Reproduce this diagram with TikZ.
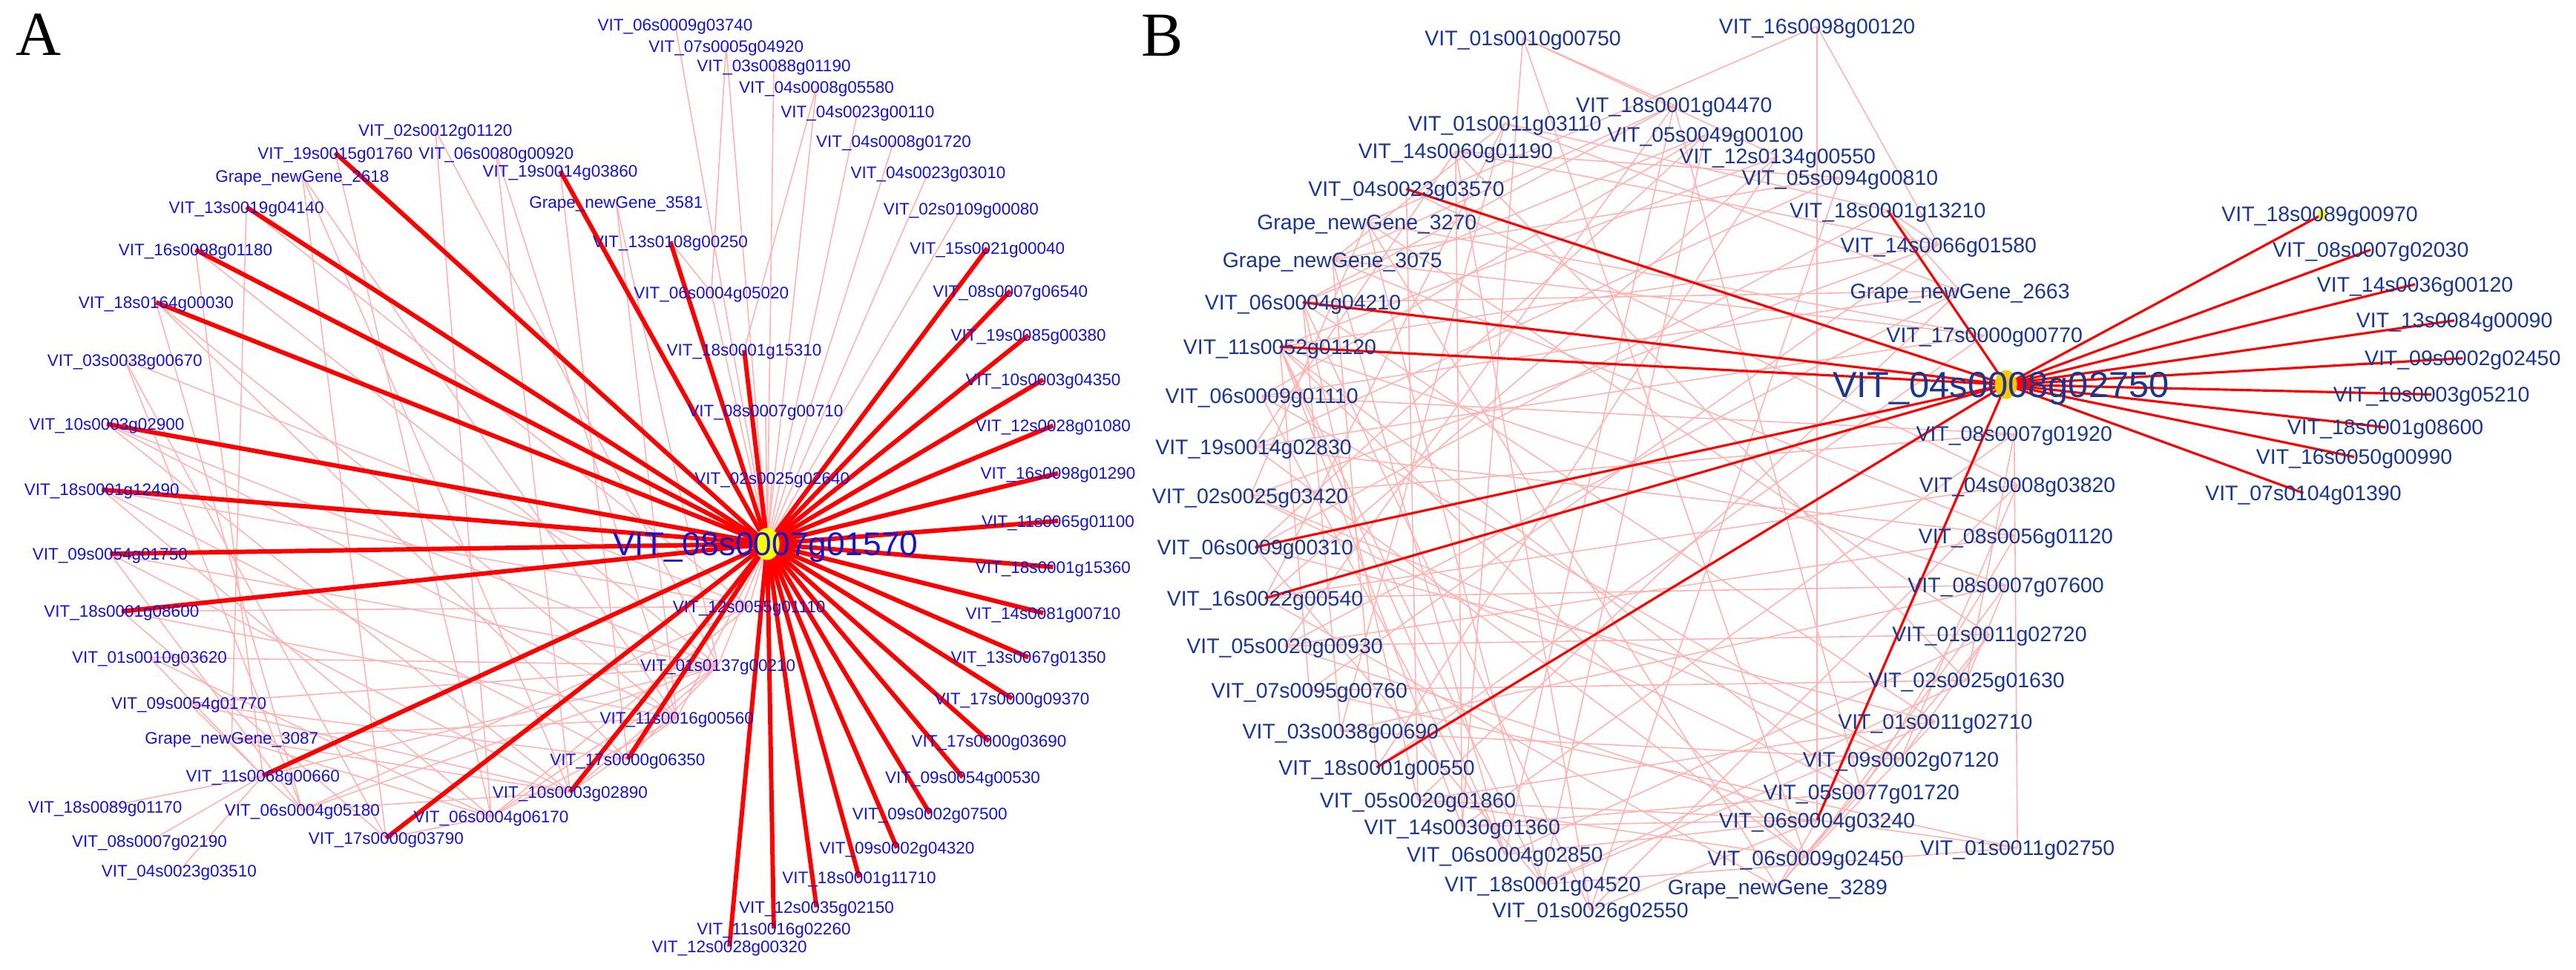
\documentclass[tikz,border=0pt]{standalone}
\usepackage{fontspec}
\setmainfont{Liberation Sans}
\newfontfamily\serifAB{Liberation Serif}
\usetikzlibrary{shapes.geometric}
\definecolor{txtA}{RGB}{20,20,205}
\definecolor{txtB}{RGB}{25,55,145}
\definecolor{hubred}{RGB}{255,0,0}
\definecolor{faint}{RGB}{255,178,178}
\definecolor{yelA}{RGB}{255,255,0}
\definecolor{yelB}{RGB}{255,200,0}
\pgfdeclarelayer{edges}
\pgfdeclarelayer{dots}
\pgfsetlayers{edges,dots,main}
\tikzset{
  labA/.style={inner sep=0pt, text=txtA, font=\fontsize{6.4}{7}\selectfont, text height=4.6pt, text depth=0pt},
  labB/.style={inner sep=0pt, text=txtB, font=\fontsize{8.1}{9}\selectfont, text height=5.8pt, text depth=0pt},
  hubA/.style={inner sep=0pt, text=txtA, font=\fontsize{12.6}{14}\selectfont, text height=9pt, text depth=0pt},
  hubB/.style={inner sep=0pt, text=txtB, font=\fontsize{13.9}{15}\selectfont, text height=9.9pt, text depth=0pt},
  thickA/.style={draw=hubred, line width=1.7pt},
  thickB/.style={draw=hubred, line width=0.9pt},
  thinE/.style={draw=faint, line width=0.45pt},
  panel/.style={font=\serifAB\fontsize{24}{26}\selectfont, inner sep=0pt},
  dotA/.style={ellipse, fill=yelA, inner sep=0pt, minimum width=9.5pt, minimum height=12.3pt},
  dotB/.style={ellipse, fill=yelB, inner sep=0pt, minimum width=8.5pt, minimum height=11pt},
  dotS/.style={ellipse, fill=yelA, inner sep=0pt, minimum width=3pt, minimum height=4.5pt}
}
\begin{document}
\begin{tikzpicture}[x=0.022143cm, y=-0.022143cm]
\useasboundingbox (0,0) rectangle (1568,590);
\node[panel] (pA) at (23.5,21) {A};
\node[panel] (pB) at (707.5,21.5) {B};

% ---------------- Panel A ----------------
\begin{pgfonlayer}{dots}
\node[dotA] (adot) at (467,331) {};
\node[dotB] (bdot) at (1221,234) {};
\node[dotS] (bsmall) at (1413.5,130.5) {};
\end{pgfonlayer}
\node[hubA] (a0) at (466,331) {VIT\_08s0007g01570};

\foreach \n/\x/\y/\t in {
 t1/411/15/VIT\_06s0009g03740, t2/442/28/VIT\_07s0005g04920, t3/471/40/VIT\_03s0088g01190,
 t4/497/53/VIT\_04s0008g05580, t5/522/68/VIT\_04s0023g00110, t6/544/86/VIT\_04s0008g01720,
 t7/565/105/VIT\_04s0023g03010, t8/585/127/VIT\_02s0109g00080,
 r1/601/151/VIT\_15s0021g00040, r2/615/177/VIT\_08s0007g06540, r3/626/204/VIT\_19s0085g00380,
 r4/635/231/VIT\_10s0003g04350, r5/641/259/VIT\_12s0028g01080, r6/644/288/VIT\_16s0098g01290,
 r7/644/317/VIT\_11s0065g01100, r8/641/345/VIT\_18s0001g15360, r9/635/373/VIT\_14s0081g00710,
 r10/626/400/VIT\_13s0067g01350, r11/616/425/VIT\_17s0000g09370, r12/602/451/VIT\_17s0000g03690,
 r13/586/473/VIT\_09s0054g00530, r14/566/495/VIT\_09s0002g07500, r15/546/516/VIT\_09s0002g04320,
 r16/523/534/VIT\_18s0001g11710, r17/497/552/VIT\_12s0035g02150, r18/471/565/VIT\_11s0016g02260,
 r19/444/576/VIT\_12s0028g00320,
 m1/341/104/VIT\_19s0014g03860, m2/408/147/VIT\_13s0108g00250, m3/453/213/VIT\_18s0001g15310,
 l1/204/93/VIT\_19s0015g01760, l2/150/126/VIT\_13s0019g04140, l3/119/152/VIT\_16s0098g01180,
 l4/95/184/VIT\_18s0164g00030, l5/65/258/VIT\_10s0003g02900, l6/62/298/VIT\_18s0001g12490,
 l7/67/337/VIT\_09s0054g01750, l8/74/372/VIT\_18s0001g08600, l9/160/472/VIT\_11s0068g00660,
 l10/235/510/VIT\_17s0000g03790, l11/347/482/VIT\_10s0003g02890, l12/382/462/VIT\_17s0000g06350,
 n1/265/79/VIT\_02s0012g01120, n2/302/93/VIT\_06s0080g00920, n3/184/107/Grape\_newGene\_2618,
 n4/375/123/Grape\_newGene\_3581, n5/433/178/VIT\_06s0004g05020, n6/466/250/VIT\_08s0007g00710,
 n7/470/291/VIT\_02s0025g02640, n8/456/369/VIT\_12s0055g01110, n9/437/405/VIT\_01s0137g00210,
 n10/412/437/VIT\_11s0016g00560, n11/76/219/VIT\_03s0038g00670, n12/91/400/VIT\_01s0010g03620,
 n13/115/428/VIT\_09s0054g01770, n14/141/449/Grape\_newGene\_3087, n15/64/491/VIT\_18s0089g01170,
 n16/184/493/VIT\_06s0004g05180, n17/91/512/VIT\_08s0007g02190, n18/109/530/VIT\_04s0023g03510,
 n19/299/497/VIT\_06s0004g06170}
 {\node[labA] (\n) at (\x,\y) {\t};}

% ---------------- Panel B ----------------
\node[hubB] (b0) at (1218,234) {VIT\_04s0008g02750};
\foreach \n/\x/\y/\t in {
 b1/927/23/VIT\_01s0010g00750, b2/1106/16/VIT\_16s0098g00120, b3/1019/64/VIT\_18s0001g04470,
 b4/916/75/VIT\_01s0011g03110, b5/1038/82/VIT\_05s0049g00100, b6/886/92/VIT\_14s0060g01190,
 b7/1082/95/VIT\_12s0134g00550, b8/1120/108/VIT\_05s0094g00810, b9/856/115/VIT\_04s0023g03570,
 b10/1149/128/VIT\_18s0001g13210, b11/832/135/Grape\_newGene\_3270, b12/1180/149/VIT\_14s0066g01580,
 b13/811/158/Grape\_newGene\_3075, b14/1193/177/Grape\_newGene\_2663, b15/793/184/VIT\_06s0004g04210,
 b16/1208/204/VIT\_17s0000g00770, b17/779/211/VIT\_11s0052g01120, b18/768/241/VIT\_06s0009g01110,
 b19/763/272/VIT\_19s0014g02830, b20/761/302/VIT\_02s0025g03420, b21/764/333/VIT\_06s0009g00310,
 b22/770/364/VIT\_16s0022g00540, b23/782/393/VIT\_05s0020g00930, b24/797/420/VIT\_07s0095g00760,
 b25/816/445/VIT\_03s0038g00690, b26/838/467/VIT\_18s0001g00550, b27/863/487/VIT\_05s0020g01860,
 b28/890/503/VIT\_14s0030g01360, b29/916/520/VIT\_06s0004g02850, b30/939/538/VIT\_18s0001g04520,
 b31/968/554/VIT\_01s0026g02550, b32/1082/540/Grape\_newGene\_3289, b33/1099/522/VIT\_06s0009g02450,
 b34/1228/516/VIT\_01s0011g02750, b35/1106/499/VIT\_06s0004g03240, b36/1133/482/VIT\_05s0077g01720,
 b37/1157/462/VIT\_09s0002g07120, b38/1178/439/VIT\_01s0011g02710, b39/1197/414/VIT\_02s0025g01630,
 b40/1211/386/VIT\_01s0011g02720, b41/1221/356/VIT\_08s0007g07600, b42/1227/326/VIT\_08s0056g01120,
 b43/1228/295/VIT\_04s0008g03820, b44/1226/264/VIT\_08s0007g01920,
 s1/1412/130/VIT\_18s0089g00970, s2/1443/152/VIT\_08s0007g02030, s3/1470/173/VIT\_14s0036g00120,
 s4/1494/195/VIT\_13s0084g00090, s5/1499/218/VIT\_09s0002g02450, s6/1480/240/VIT\_10s0003g05210,
 s7/1452/260/VIT\_18s0001g08600, s8/1433/278/VIT\_16s0050g00990, s9/1402/300/VIT\_07s0104g01390}
 {\node[labB] (\n) at (\x,\y) {\t};}

\begin{pgfonlayer}{edges}
% faint edges, panel A
\foreach \a/\b in {t1/adot,t2/adot,t3/adot,t4/adot,t5/adot,t6/adot,t7/adot,t8/adot,
 n5/adot,n6/adot,n7/adot,n8/adot,n9/adot,n10/adot,
 n1/n19,n1/n9,n2/l11,n2/n10,n3/l10,n3/n10,n3/l11,m1/l12,n4/n10,n4/n9,
 l1/n19,l2/n14,l2/n8,l3/l9,l3/n9,l4/n16,l4/n10,l4/l12,n11/n16,n11/l10,n11/n8,
 l5/n9,l5/n10,l5/l11,l6/n8,l6/l12,l6/n19,l7/n9,l7/l11,l7/n16,l8/n8,l8/n10,l8/l10,
 n12/n9,n12/l9,n12/n19,n13/n9,n13/l12,n13/l9,n13/l11,n14/l11,n14/n10,n14/n19,
 l9/n15,l9/n17,l9/n18,l9/n16,l9/n9,n16/l11,n16/n9,n16/n8,n19/n10,n19/n9,n19/n8,
 l10/n19,l12/n9,l11/n10,l11/n9,m2/n5,t2/n5,t4/m3}
 {\draw[thinE] (\a.center) -- (\b.center);}
% strong edges, panel A
\foreach \b in {r1,r2,r3,r4,r5,r6,r7,r8,r9,r10,r11,r12,r13,r14,r15,r16,r17,r18,r19,
 m1,m2,m3,l1,l2,l3,l4,l5,l6,l7,l8,l9,l10,l11,l12}
 {\draw[thickA] (adot.center) -- (\b.center);}
% faint edges, panel B
\foreach \a/\b in {b17/b28,b17/b29,b17/b30,b17/b33,b17/b36,b17/b41,b17/b12,b17/b7,b17/b24,
 b15/b25,b15/b27,b15/b31,b15/b38,b15/b14,b15/b5,b15/b3,
 b13/b26,b13/b29,b13/b42,b13/b8,b13/b4,
 b11/b2,b11/b30,b11/b32,b11/b40,b11/b16,b11/b20,
 b9/b27,b9/b43,b6/b28,b6/b31,b6/b39,b6/b12,b6/b19,
 b4/b10,b4/b14,b4/b25,b4/b22,b1/b3,b1/b28,b1/b33,b1/b7,
 b2/b35,b2/b12,b3/b23,b3/b29,b3/b36,b3/b13,b5/b21,b5/b30,b5/b18,
 b7/b22,b7/b26,b8/b31,b8/b19,b8/b6,b10/b14,b10/b12,b10/b21,
 b12/b24,b12/b20,b14/b18,b14/b23,b14/b27,b16/b26,b16/b19,b16/b13,
 b18/b37,b18/b29,b18/b44,b19/b33,b19/b42,b20/b36,b20/b37,b20/b44,
 b21/b38,b21/b30,b22/b41,b22/b32,b22/b43,b23/b40,b23/b35,b23/b42,
 b24/b39,b24/b34,b25/b37,b25/b41,b27/b35,b27/b33,b27/b38,
 b28/b35,b28/b36,b28/b44,b29/b35,b29/b40,b30/b38,b30/b34,b30/b39,
 b31/b35,b31/b43,b32/b35,b32/b36,b32/b40,b33/b41,b33/b38,
 b34/b35,b34/b44,b37/b40,b37/b43,b36/b42,b39/b41,b39/b44}
 {\draw[thinE] (\a.center) -- (\b.center);}
% strong edges, panel B
\foreach \b in {b9,b10,b15,b17,b21,b22,b26,b35,s2,s3,s4,s5,s6,s7,s8,s9}
 {\draw[thickB] (bdot.center) -- (\b.center);}
\draw[thickB] (bdot.center) -- (bsmall.center);
\end{pgfonlayer}
\end{tikzpicture}
\end{document}
